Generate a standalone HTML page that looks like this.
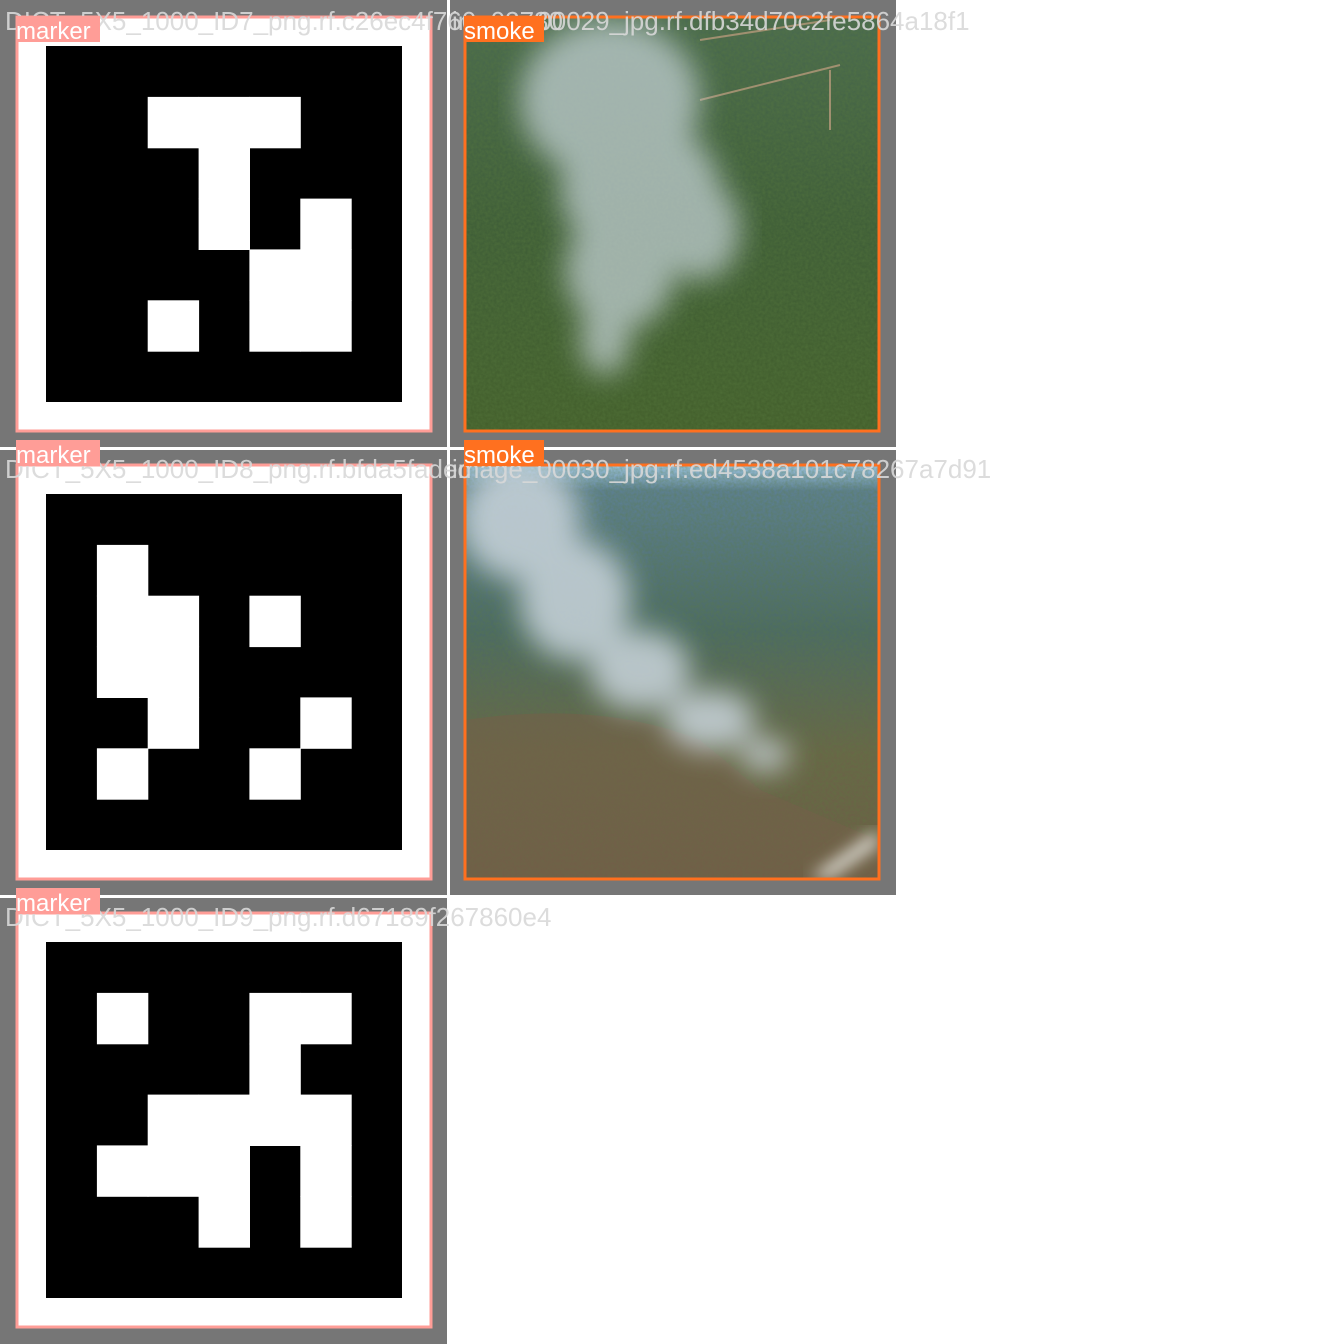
<!DOCTYPE html>
<html><head><meta charset="utf-8"><style>
html,body{margin:0;padding:0;background:#fff;width:1344px;height:1344px;overflow:hidden}
svg{display:block}
.fn{font-family:"Liberation Sans",sans-serif;font-size:26px;fill:#d8d8d8;fill-opacity:0.9}
.lb{font-family:"Liberation Sans",sans-serif;font-size:24px;fill:#fff}
</style></head><body>
<svg id="mosaic" width="1344" height="1344" viewBox="0 0 1344 1344" xmlns="http://www.w3.org/2000/svg">
<defs>
<filter id="blur8"><feGaussianBlur stdDeviation="8"/></filter>
<filter id="blur14"><feGaussianBlur stdDeviation="14"/></filter>
<filter id="noise"><feTurbulence type="fractalNoise" baseFrequency="0.35" numOctaves="2" seed="3"/><feColorMatrix type="matrix" values="0 0 0 0 0.1  0 0 0 0 0.2  0 0 0 0 0.05  0 0 0 -1.2 1.0"/></filter>
<clipPath id="c2"><rect x="466" y="18" width="412" height="412"/></clipPath>
<clipPath id="c4"><rect x="466" y="466" width="412" height="412"/></clipPath>
<linearGradient id="forest" x1="0" y1="0" x2="0" y2="1"><stop offset="0" stop-color="#4a6a50"/><stop offset="0.5" stop-color="#3f5e38"/><stop offset="1" stop-color="#44602c"/></linearGradient>
<linearGradient id="mount" x1="0" y1="0" x2="0" y2="1"><stop offset="0" stop-color="#9cc4e4"/><stop offset="0.06" stop-color="#5d8094"/><stop offset="0.4" stop-color="#4c6a66"/><stop offset="0.7" stop-color="#6a6548"/><stop offset="1" stop-color="#6e5b46"/></linearGradient>
</defs>
<rect x="0" y="0" width="896" height="896" fill="#767676"/>
<rect x="0" y="896" width="448" height="448" fill="#767676"/>
<!-- grid lines -->
<rect x="447" y="0" width="3" height="1344" fill="#fff"/>
<rect x="0" y="447" width="896" height="3" fill="#fff"/>
<rect x="0" y="895" width="896" height="3" fill="#fff"/>
<rect x="448" y="898" width="896" height="446" fill="#fff"/>

<!-- tile 2 photo -->
<g clip-path="url(#c2)">
<rect x="466" y="18" width="412" height="412" fill="url(#forest)"/>
<rect x="466" y="18" width="412" height="412" filter="url(#noise)" opacity="0.5"/>
<path d="M700 40 L830 20 M700 100 L840 65 M830 70 L830 130" stroke="#a09070" stroke-width="2" fill="none"/>
<g filter="url(#blur14)" fill="#c8d4da" opacity="0.7">
<ellipse cx="610" cy="100" rx="90" ry="80"/>
<ellipse cx="640" cy="190" rx="80" ry="70"/>
<ellipse cx="620" cy="270" rx="55" ry="60"/>
<ellipse cx="700" cy="230" rx="40" ry="50"/>
<ellipse cx="605" cy="340" rx="25" ry="35"/>
</g>
</g>
<!-- tile 4 photo -->
<g clip-path="url(#c4)">
<rect x="466" y="466" width="412" height="412" fill="url(#mount)"/>
<rect x="466" y="466" width="412" height="412" filter="url(#noise)" opacity="0.45"/>
<path d="M466 720 Q600 700 700 740 L760 790 L878 840 L878 878 L466 878 Z" fill="#73604a" opacity="0.6"/>
<g filter="url(#blur14)" fill="#c9d4dc" opacity="0.85">
<ellipse cx="520" cy="520" rx="60" ry="60"/>
<ellipse cx="575" cy="600" rx="55" ry="60"/>
<ellipse cx="640" cy="670" rx="50" ry="40"/>
<ellipse cx="710" cy="720" rx="45" ry="30"/>
<ellipse cx="765" cy="755" rx="25" ry="16"/>
</g>
<path d="M810 878 L878 830 L878 845 L830 878 Z" fill="#e6e6e0" filter="url(#blur8)"/>
</g>

<g id="markers"></g>

<!-- bounding boxes -->
<rect x="17" y="17" width="414" height="414" fill="none" stroke="#ff9d97" stroke-width="3"/>
<rect x="17" y="465" width="414" height="414" fill="none" stroke="#ff9d97" stroke-width="3"/>
<rect x="17" y="913" width="414" height="414" fill="none" stroke="#ff9d97" stroke-width="3"/>
<rect x="465" y="17" width="414" height="414" fill="none" stroke="#ff701f" stroke-width="3"/>
<rect x="465" y="465" width="414" height="414" fill="none" stroke="#ff701f" stroke-width="3"/>

<!-- filenames -->
<text class="fn" x="5" y="30">DICT_5X5_1000_ID7_png.rf.c26ec4f760a03780</text>
<text class="fn" x="452" y="30">image_00029_jpg.rf.dfb34d70c2fe5864a18f1</text>
<text class="fn" x="5" y="478">DICT_5X5_1000_ID8_png.rf.bfda5fadec</text>
<text class="fn" x="452" y="478">image_00030_jpg.rf.ed4538a101c78267a7d91</text>
<text class="fn" x="5" y="926">DICT_5X5_1000_ID9_png.rf.d67189f267860e4</text>

<!-- class labels -->
<rect x="16" y="16" width="84" height="26" fill="#ff9d97"/><text class="lb" x="16" y="39">marker</text>
<rect x="16" y="440" width="84" height="26" fill="#ff9d97"/><text class="lb" x="16" y="463">marker</text>
<rect x="16" y="888" width="84" height="26" fill="#ff9d97"/><text class="lb" x="16" y="911">marker</text>
<rect x="464" y="16" width="80" height="26" fill="#ff701f"/><text class="lb" x="464" y="39">smoke</text>
<rect x="464" y="440" width="80" height="26" fill="#ff701f"/><text class="lb" x="464" y="463">smoke</text>
</svg>
<script>
// white cells [row, col] on 7x7 marker grid
const marker1 = [[1,2],[1,3],[1,4],[2,3],[3,3],[3,5],[4,4],[4,5],[5,2],[5,4],[5,5]];
const marker2 = [[1,1],[2,1],[3,1],[2,2],[3,2],[4,2],[2,4],[4,5],[5,1],[5,4]];
const marker3 = [[1,1],[1,4],[1,5],[2,4],[3,2],[3,3],[3,4],[3,5],[4,1],[4,2],[4,3],[4,5],[5,3],[5,5]];
const markerTops = [0, 448, 896];
const markers = [marker1, marker2, marker3];
const NS = "http://www.w3.org/2000/svg";
const g = document.getElementById('markers');
const cell = 356/7;
function mk(attrs){const e=document.createElementNS(NS,'rect');for(const k in attrs)e.setAttribute(k,attrs[k]);return e;}
markers.forEach((cells, i) => {
  const ty = markerTops[i];
  const bg = mk({x:18, y:ty+18, width:412, height:412, fill:'#fff'});
  
  
  g.appendChild(bg);
  const bl = mk({x:46, y:ty+46, width:356, height:356, fill:'#000'});
  
  
  g.appendChild(bl);
  cells.forEach(([r, c]) => {
    const e = mk({x:(46+c*cell).toFixed(1), y:(ty+46+r*cell).toFixed(1), width:(cell+0.5).toFixed(1), height:(cell+0.5).toFixed(1), fill:'#fff'});
    
    
    g.appendChild(e);
  });
});
</script>
</body></html>
